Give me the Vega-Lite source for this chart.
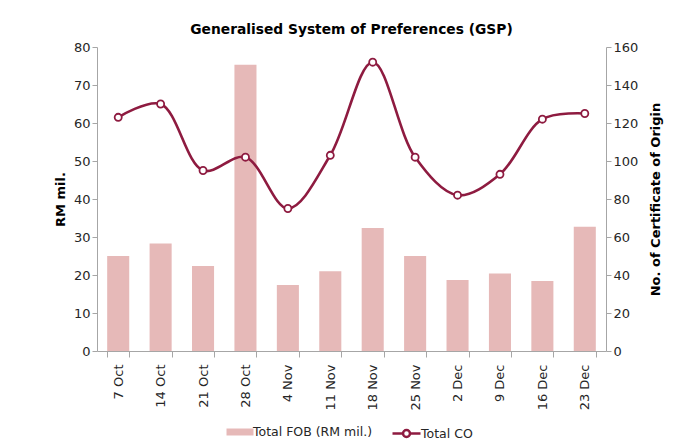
{
  "$schema": "https://vega.github.io/schema/vega-lite/v6.json",
  "width": 509,
  "height": 304,
  "autosize": "none",
  "padding": {"left": 97, "top": 47, "right": 82, "bottom": 97},
  "background": "white",
  "config": {
    "font": "DejaVu Sans",
    "view": {"stroke": null},
    "axis": {"labelFont": "DejaVu Sans", "labelFontSize": 13, "labelColor": "#262626", "domainColor": "#A6A6A6", "tickColor": "#A6A6A6", "grid": false, "titleFont": "DejaVu Sans", "titleFontSize": 13, "titleFontWeight": "bold", "titleColor": "#000000", "labelOverlap": false},
    "legend": {"labelFont": "DejaVu Sans", "labelFontSize": 12.5, "labelColor": "#262626", "layout": {"bottom": {"anchor": "middle", "direction": "horizontal", "margin": 22}}}
  },
  "title": {"text": "Generalised System of Preferences (GSP)", "font": "DejaVu Sans", "fontSize": 13.8, "fontWeight": "bold", "color": "#000000", "anchor": "middle", "offset": 4},
  "data": {"values": [
    {"week": "7 Oct", "fob": 25.0, "co": 123},
    {"week": "14 Oct", "fob": 28.3, "co": 130},
    {"week": "21 Oct", "fob": 22.4, "co": 95},
    {"week": "28 Oct", "fob": 75.3, "co": 102},
    {"week": "4 Nov", "fob": 17.4, "co": 75},
    {"week": "11 Nov", "fob": 21.0, "co": 103},
    {"week": "18 Nov", "fob": 32.4, "co": 152},
    {"week": "25 Nov", "fob": 25.0, "co": 102},
    {"week": "2 Dec", "fob": 18.7, "co": 82},
    {"week": "9 Dec", "fob": 20.4, "co": 93},
    {"week": "16 Dec", "fob": 18.4, "co": 122},
    {"week": "23 Dec", "fob": 32.7, "co": 125}
  ]},
  "encoding": {
    "x": {"field": "week", "type": "nominal", "sort": null, "title": null,
      "scale": {"paddingInner": 0.48, "paddingOuter": 0.24},
      "axis": {"labelAngle": -90, "labelAlign": "right", "labelBaseline": "middle", "tickBand": "extent", "tickSize": 6, "labelPadding": 7}}
  },
  "layer": [
    {
      "mark": {"type": "bar", "color": "#E6B9B8"},
      "encoding": {
        "y": {"field": "fob", "type": "quantitative", "title": "RM mil.", "scale": {"domain": [0, 80]},
          "axis": {"orient": "left", "values": [0,10,20,30,40,50,60,70,80], "tickSize": 5, "titlePadding": 6}},
        "fill": {"datum": "Total FOB (RM mil.)", "type": "nominal", "scale": {"range": ["#E6B9B8"]},
          "legend": {"title": null, "orient": "bottom", "offset": 11, "symbolType": "M -1.35 -0.35 H 1.35 V 0.35 H -1.35 Z", "symbolSize": 400, "symbolStrokeWidth": 0, "labelOffset": 3}}
      }
    },
    {
      "encoding": {
        "y": {"field": "co", "type": "quantitative", "title": "No. of Certificate of Origin", "scale": {"domain": [0, 160]},
          "axis": {"orient": "right", "values": [0,20,40,60,80,100,120,140,160], "tickSize": 5, "titleAngle": 270, "titleBaseline": "top", "titlePadding": 12}}
      },
      "layer": [
        {
          "mark": {"type": "line", "interpolate": "catmull-rom", "strokeWidth": 2.6},
          "encoding": {
            "stroke": {"datum": "Total CO", "type": "nominal", "scale": {"range": ["#8E1B40"]},
              "legend": {"title": null, "orient": "bottom", "offset": 11, "symbolType": "M -1.4 0 H -0.35 M 0.35 0 H 1.4 M -0.35 0 A 0.35 0.35 0 1 1 0.35 0 A 0.35 0.35 0 1 1 -0.35 0 Z", "symbolSize": 400, "symbolStrokeWidth": 2.5, "symbolFillColor": "white", "labelOffset": 3}}
          }
        },
        {
          "mark": {"type": "point", "filled": true, "fill": "white", "stroke": "#8E1B40", "strokeWidth": 1.8, "size": 50, "opacity": 1}
        }
      ]
    }
  ],
  "resolve": {"scale": {"y": "independent", "fill": "independent", "stroke": "independent"}}
}
